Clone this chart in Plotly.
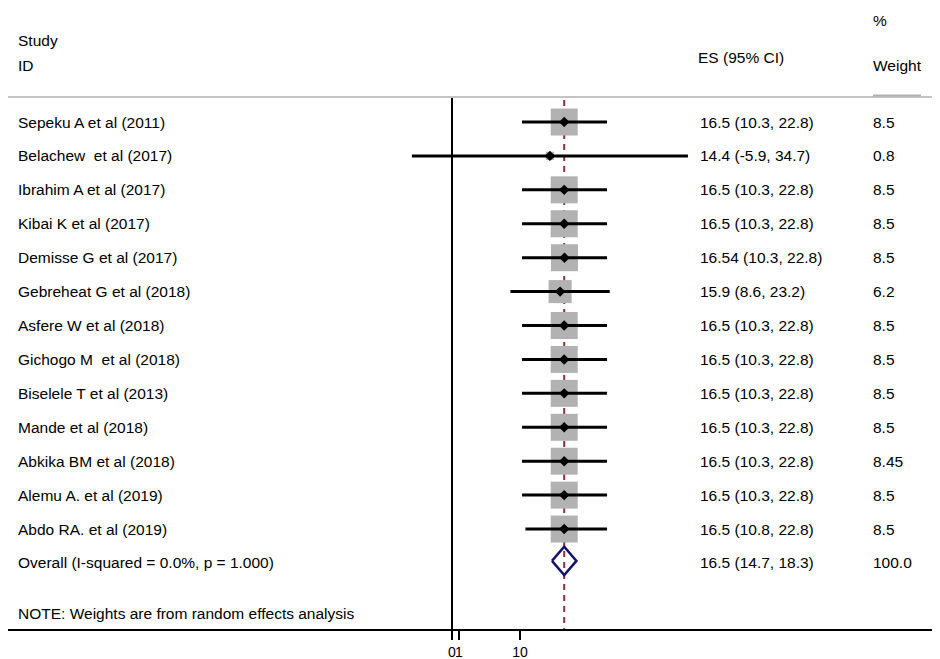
import plotly.graph_objects as go

studies = [
    "Sepeku A et al (2011)",
    "Belachew\u00a0 et al (2017)",
    "Ibrahim A et al (2017)",
    "Kibai K et al (2017)",
    "Demisse G et al (2017)",
    "Gebreheat G et al (2018)",
    "Asfere W et al (2018)",
    "Gichogo M\u00a0 et al (2018)",
    "Biselele T et al (2013)",
    "Mande et al (2018)",
    "Abkika BM et al (2018)",
    "Alemu A. et al (2019)",
    "Abdo RA. et al (2019)",
]
es = [16.5, 14.4, 16.5, 16.5, 16.54, 15.9, 16.5, 16.5, 16.5, 16.5, 16.5, 16.5, 16.5]
ci_low = [10.3, -5.9, 10.3, 10.3, 10.3, 8.6, 10.3, 10.3, 10.3, 10.3, 10.3, 10.3, 10.8]
ci_high = [22.8, 34.7, 22.8, 22.8, 22.8, 23.2, 22.8, 22.8, 22.8, 22.8, 22.8, 22.8, 22.8]
weights = [8.5, 0.8, 8.5, 8.5, 8.5, 6.2, 8.5, 8.5, 8.5, 8.5, 8.45, 8.5, 8.5]

overall_label = "Overall (I-squared = 0.0%, p = 1.000)"
overall_es = 16.5
overall_low = 14.7
overall_high = 18.3
overall_weight = "100.0"
note = "NOTE: Weights are from random effects analysis"

tick_vals = [0, 1, 10]
tick_text = ["0", "1", "10"]

FONT = "Liberation Sans, Arial, sans-serif"
OFF = 8              # page body margin in the browser
W, H = 940 - OFF, 659 - OFF
X0_PX = 452.0        # target screenshot pixel of x = 0
PX_PER_UNIT = 6.8
ROW0_PX = 122.0      # target screenshot pixel of first row
ROW_PX = 33.92

x_range = [(OFF - X0_PX) / PX_PER_UNIT, (OFF + W - X0_PX) / PX_PER_UNIT]
y_range = [(OFF + H - ROW0_PX) / ROW_PX, (OFF - ROW0_PX) / ROW_PX]


def px_to_row(p):
    return (p - ROW0_PX) / ROW_PX


def px_to_paper_x(p):
    return (p - OFF) / W


n = len(studies)
rows = list(range(n))
overall_row = n
note_row = n + 1.5

fig = go.Figure()

# weight boxes (area proportional to weight)
box_sizes = [27 * (w / 8.5) ** 0.5 for w in weights]
fig.add_trace(go.Scatter(
    x=es, y=rows, mode="markers",
    marker=dict(symbol="square", size=box_sizes, color="#b2b2b2", opacity=1, line=dict(width=0)),
    hoverinfo="skip", showlegend=False,
))

# CI lines + point estimates
fig.add_trace(go.Scatter(
    x=es, y=rows, mode="markers",
    marker=dict(symbol="diamond", size=8, color="black"),
    error_x=dict(type="data", symmetric=False,
                 array=[h - e for h, e in zip(ci_high, es)],
                 arrayminus=[e - l for e, l in zip(es, ci_low)],
                 color="black", thickness=3, width=0),
    showlegend=False,
))

# overall diamond
dh = 0.42
yc = overall_row - 0.06
fig.add_trace(go.Scatter(
    x=[overall_low, overall_es, overall_high, overall_es, overall_low],
    y=[yc, yc - dh, yc, yc + dh, yc],
    mode="lines", line=dict(color="#14146e", width=2.5),
    showlegend=False, hoverinfo="skip",
))

top_row = px_to_row(97)
bot_row = px_to_row(630)

shapes = [
    dict(type="line", xref="x", yref="y", x0=0, x1=0, y0=top_row, y1=bot_row,
         line=dict(color="black", width=2), layer="below"),
    dict(type="line", xref="x", yref="y", x0=overall_es, x1=overall_es, y0=px_to_row(100), y1=bot_row,
         line=dict(color="#8e3039", width=2, dash="6px,5px"), layer="below"),
    dict(type="line", xref="paper", yref="y", x0=px_to_paper_x(0), x1=1, y0=top_row, y1=top_row,
         line=dict(color="#c4c4c4", width=2)),
    dict(type="line", xref="paper", yref="y", x0=px_to_paper_x(873), x1=px_to_paper_x(921),
         y0=px_to_row(95.5), y1=px_to_row(95.5), line=dict(color="#b0b0b0", width=2)),
]

annotations = []


def txt(text, xpx, y, is_row=True, size=15.5):
    annotations.append(dict(
        text=text, xref="paper", yref="y", x=px_to_paper_x(xpx),
        y=y if is_row else px_to_row(y),
        xanchor="left", yanchor="middle", showarrow=False, borderpad=0,
        font=dict(family=FONT, size=size, color="black"),
    ))


# headers
txt("Study", 17, 40, is_row=False)
txt("ID", 17, 65, is_row=False)
txt("ES (95% CI)", 697, 57, is_row=False)
txt("%", 872, 20, is_row=False)
txt("Weight", 872, 65, is_row=False)

for i in range(n):
    txt(studies[i], 17, i)
    txt(f"{es[i]} ({ci_low[i]}, {ci_high[i]})", 699, i)
    txt(str(weights[i]), 872, i)

txt(overall_label, 17, overall_row)
txt(f"{overall_es} ({overall_low}, {overall_high})", 699, overall_row)
txt(overall_weight, 872, overall_row)
txt(note, 17, note_row)

fig.update_layout(
    width=W, height=H,
    margin=dict(l=0, r=0, t=0, b=0, autoexpand=False),
    paper_bgcolor="white", plot_bgcolor="white",
    shapes=shapes, annotations=annotations,
    xaxis=dict(range=x_range, anchor="free", position=(OFF + H - 630) / H,
               automargin=False,
               showline=True, linecolor="black", linewidth=2,
               ticks="outside", ticklen=9, tickwidth=2, tickcolor="black",
               tickvals=tick_vals, ticktext=tick_text, tickangle=0,
               tickfont=dict(family=FONT, size=14, color="black"),
               showgrid=False, zeroline=False),
    yaxis=dict(range=y_range, visible=False, showgrid=False, zeroline=False, automargin=False),
)

fig.write_html("out.html")
